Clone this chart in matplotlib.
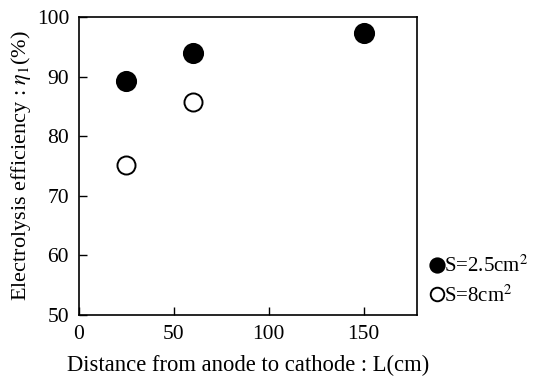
import matplotlib.pyplot as plt

plt.rcParams["font.family"] = ["Liberation Serif", "DejaVu Serif"]
plt.rcParams["mathtext.fontset"] = "stix"

# S = 2.5 cm^2 (filled)
dist_small = [25, 60, 150]
eff_small = [89.2, 93.9, 97.4]
# S = 8 cm^2 (open)
dist_large = [25, 60]
eff_large = [75.2, 85.8]

x_ticks = [0, 50, 100, 150]
y_ticks = [50, 60, 70, 80, 90, 100]

fig = plt.figure(figsize=(5.4, 3.8), dpi=100)
ax = fig.add_axes([0.146, 0.171, 0.626, 0.784])

ax.plot(dist_small, eff_small, "o", ms=14, mfc="black", mec="black",
        mew=1.2, linestyle="none", label="S=2.5cm$^2$", clip_on=False)
ax.plot(dist_large, eff_large, "o", ms=13, mfc="white", mec="black",
        mew=1.4, linestyle="none", label="S=8cm$^2$", clip_on=False)

ax.set_xlim(0, 178)
ax.set_ylim(50, 100)
ax.set_xticks(x_ticks)
ax.set_yticks(y_ticks)
ax.tick_params(direction="in", length=6, width=1, labelsize=15.5)
ax.tick_params(axis="y", pad=7)
ax.tick_params(axis="x", pad=7)
for s in ax.spines.values():
    s.set_linewidth(1.2)

ax.set_xlabel("Distance from anode to cathode : L(cm)", fontsize=16.3, labelpad=8)
ax.set_ylabel(r"Electrolysis efficiency : $\eta_1$(%)", fontsize=16, labelpad=3)

leg = ax.legend(loc="lower left", bbox_to_anchor=(1.02, 0.0), frameon=False,
                fontsize=15, markerscale=0.75, handlelength=0.5,
                handletextpad=0.1, borderaxespad=0, labelspacing=0.4)

fig.savefig("out.png", dpi=100)
